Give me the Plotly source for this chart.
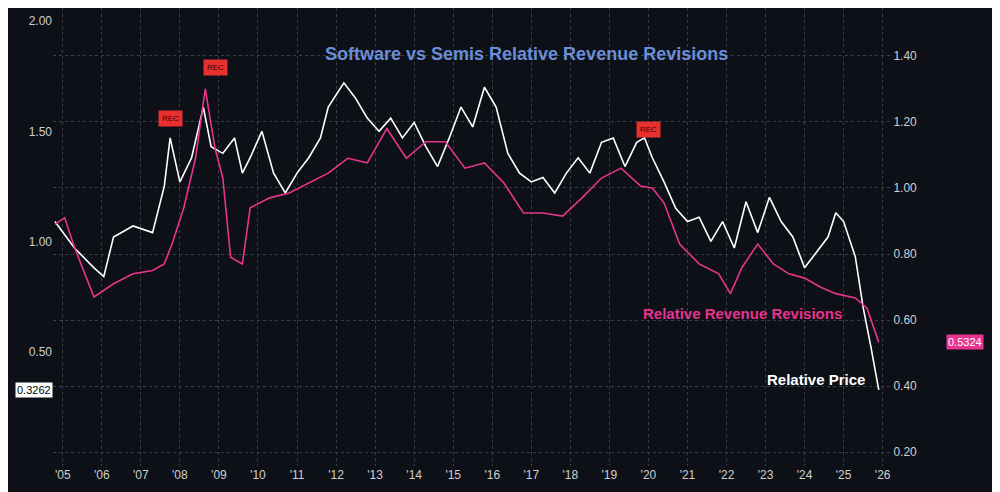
import plotly.graph_objs as go
from plotly.subplots import make_subplots

# Relative price (left axis)
price_x = [2005.0, 2005.5, 2006.0, 2006.25, 2006.5, 2007.0, 2007.5, 2007.8, 2007.95, 2008.2, 2008.5, 2008.8,
           2009.0, 2009.3, 2009.6, 2009.8, 2010.0, 2010.3, 2010.6, 2010.9, 2011.2, 2011.5, 2011.8, 2012.0,
           2012.4, 2012.7, 2013.0, 2013.3, 2013.6, 2013.9, 2014.2, 2014.5, 2014.8, 2015.1, 2015.4, 2015.7,
           2016.0, 2016.3, 2016.6, 2016.9, 2017.2, 2017.5, 2017.8, 2018.1, 2018.4, 2018.7, 2019.0, 2019.3,
           2019.6, 2019.9, 2020.1, 2020.3, 2020.6, 2020.9, 2021.2, 2021.5, 2021.8, 2022.1, 2022.4, 2022.7,
           2023.0, 2023.3, 2023.6, 2023.9, 2024.2, 2024.5, 2024.8, 2025.0, 2025.2, 2025.5, 2025.7, 2025.9, 2026.1]
price_y = [1.09, 0.97, 0.88, 0.84, 1.02, 1.07, 1.04, 1.25, 1.47, 1.27, 1.38, 1.61,
           1.43, 1.40, 1.47, 1.31, 1.38, 1.50, 1.31, 1.22, 1.31, 1.38, 1.47, 1.61,
           1.72, 1.65, 1.56, 1.50, 1.56, 1.47, 1.54, 1.43, 1.34, 1.47, 1.61, 1.52,
           1.70, 1.61, 1.40, 1.31, 1.27, 1.29, 1.22, 1.31, 1.38, 1.31, 1.45, 1.47,
           1.34, 1.45, 1.47, 1.38, 1.27, 1.15, 1.09, 1.11, 1.00, 1.09, 0.97, 1.18,
           1.04, 1.20, 1.09, 1.02, 0.88, 0.95, 1.02, 1.13, 1.09, 0.93, 0.70, 0.52, 0.3262]

# Relative revenue revisions (right axis)
rev_x = [2005.0, 2005.25, 2005.5, 2006.0, 2006.5, 2007.0, 2007.5, 2007.8, 2008.0, 2008.3, 2008.6, 2008.85,
         2009.1, 2009.3, 2009.5, 2009.8, 2010.0, 2010.5, 2011.0, 2011.5, 2012.0, 2012.5, 2013.0, 2013.5,
         2014.0, 2014.5, 2015.0, 2015.5, 2016.0, 2016.5, 2017.0, 2017.5, 2018.0, 2018.5, 2019.0, 2019.5,
         2020.0, 2020.3, 2020.6, 2021.0, 2021.5, 2022.0, 2022.3, 2022.6, 2023.0, 2023.4, 2023.8, 2024.2,
         2024.6, 2025.0, 2025.5, 2025.8, 2026.1]
rev_y = [0.89, 0.91, 0.82, 0.67, 0.71, 0.74, 0.75, 0.77, 0.83, 0.94, 1.09, 1.30,
         1.12, 1.03, 0.79, 0.77, 0.94, 0.97, 0.985, 1.015, 1.045, 1.09, 1.076, 1.18,
         1.09, 1.14, 1.14, 1.06, 1.076, 1.015, 0.924, 0.924, 0.915, 0.97, 1.03, 1.06,
         1.006, 1.0, 0.955, 0.83, 0.77, 0.74, 0.68, 0.76, 0.83, 0.77, 0.74, 0.727,
         0.70, 0.68, 0.667, 0.636, 0.5324]

years = list(range(2005, 2027))
year_labels = ["'%02d" % (y % 100) for y in years]
recessions = [(2007.9, 2009.5), (2020.1, 2020.35)]

PINK = '#e8338f'

fig = make_subplots(specs=[[{"secondary_y": True}]])

# Recession shading
for x0, x1 in recessions:
    fig.add_vrect(x0=x0, x1=x1, fillcolor='#9a2020', opacity=0.55, line_width=0, layer='below')

fig.add_trace(go.Scatter(x=price_x, y=price_y, mode='lines', line=dict(color='white', width=1.6),
                         name='Relative Price'), secondary_y=False)
fig.add_trace(go.Scatter(x=rev_x, y=rev_y, mode='lines', line=dict(color=PINK, width=1.6),
                         name='Relative Revenue Revisions'), secondary_y=True)

# REC flags
for x, y in [(2007.95, 1.56), (2009.1, 1.79), (2020.2, 1.51)]:
    fig.add_annotation(x=x, y=y, yref='y', text='REC', showarrow=False, bgcolor='#e83030',
                       font=dict(color='#400000', size=8), borderpad=3)

fig.add_annotation(x=0.53, y=0.925, xref='paper', yref='paper', text='<b>Software vs Semis Relative Revenue Revisions</b>',
                   showarrow=False, font=dict(color='#6a8ed8', size=18))
fig.add_annotation(x=2022.6, y=0.62, yref='y2', text='<b>Relative Revenue Revisions</b>', showarrow=False,
                   font=dict(color=PINK, size=15))
fig.add_annotation(x=2024.5, y=0.42, yref='y2', text='<b>Relative Price</b>', showarrow=False,
                   font=dict(color='white', size=15))
fig.add_annotation(x=0, y=0.3262, xref='paper', yref='y', text='0.3262', showarrow=False, xanchor='right',
                   bgcolor='white', font=dict(color='black', size=11))
fig.add_annotation(x=1, y=0.5324, xref='paper', yref='y2', text='0.5324', showarrow=False, xanchor='left',
                   bgcolor=PINK, font=dict(color='white', size=11))

fig.update_layout(
    width=1000, height=492, showlegend=False,
    paper_bgcolor='#0d1117', plot_bgcolor='rgba(0,0,0,0)',
    margin=dict(l=45, r=62, t=0, b=34, autoexpand=False),
    font=dict(family='Arial', color='#cfcfcf', size=12),
)
fig.update_xaxes(range=[2004.95, 2026.45], tickvals=[y + 0.2 for y in years], ticktext=year_labels,
                 showgrid=True, gridcolor='#3a3f46', griddash='dot', zeroline=False, ticks='', automargin=False)
fig.update_yaxes(range=[-0.02, 2.06], tickvals=[0.5, 1.0, 1.5, 2.0], tickformat='.2f', showgrid=False,
                 zeroline=False, automargin=False, secondary_y=False)
fig.update_yaxes(range=[0.158, 1.545], tickvals=[0.2, 0.4, 0.6, 0.8, 1.0, 1.2, 1.4], tickformat='.2f',
                 showgrid=True, gridcolor='#3a3f46', griddash='dot', zeroline=False, automargin=False,
                 secondary_y=True)

fig.write_html("out.html")
